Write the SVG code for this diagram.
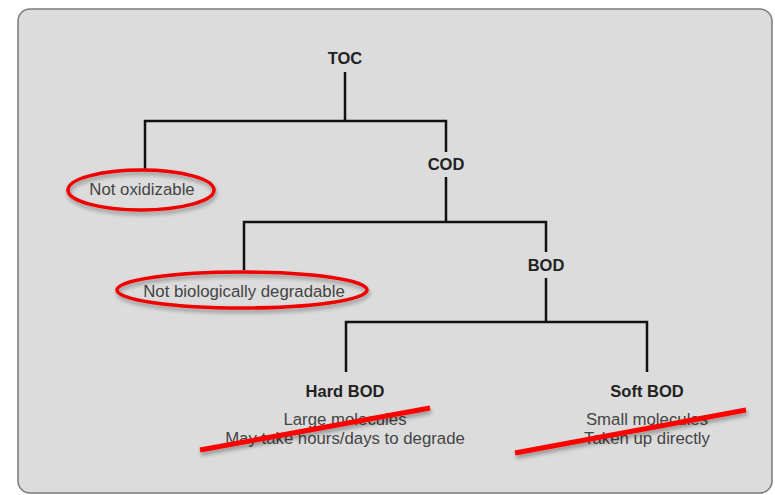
<svg xmlns="http://www.w3.org/2000/svg" width="775" height="495" viewBox="0 0 775 495">
<defs>
<style>
.bold{font-family:"Liberation Sans",Arial,sans-serif;font-weight:bold;font-size:16.5px;fill:#222;text-anchor:middle}
.reg{font-family:"Liberation Sans",Arial,sans-serif;font-size:16.8px;fill:#444;text-anchor:middle}
.conn{fill:none;stroke:#111;stroke-width:2.5}
.ring{fill:none;stroke:#f00000;stroke-width:3.5;filter:url(#sh)}
.strike{stroke:#ff0000;stroke-width:5;filter:url(#sh)}
</style>
<filter id="sh" x="-20%" y="-50%" width="140%" height="200%">
<feDropShadow dx="1" dy="3" stdDeviation="2" flood-color="#000" flood-opacity="0.35"/>
</filter>
</defs>
<rect x="0" y="0" width="775" height="495" fill="#ffffff"/>
<rect x="18" y="9" width="754" height="484" rx="12" fill="#dcdcdc" stroke="#7a7a7a" stroke-width="1.5"/>
<g id="connectors">
<path class="conn" d="M345,72 V121 M145,170 V121 H446 V152"/>
<path class="conn" d="M446,177 V222 M244,270 V222 H546 V252"/>
<path class="conn" d="M546,278 V322 M346,372 V322 H647 V372"/>
</g>
<g id="toc"><text class="bold" x="345" y="64">TOC</text></g>
<g id="cod"><text class="bold" x="446" y="170">COD</text></g>
<g id="bod"><text class="bold" x="546" y="271">BOD</text></g>
<g id="not-oxidizable">
<text class="reg" x="142" y="195">Not oxidizable</text>
<ellipse class="ring" cx="141" cy="190" rx="73" ry="20"/>
</g>
<g id="not-bio">
<text class="reg" x="244" y="297">Not biologically degradable</text>
<ellipse class="ring" cx="242" cy="290" rx="125" ry="18"/>
</g>
<g id="hard-bod">
<text class="bold" x="345" y="397">Hard BOD</text>
<text class="reg" x="345" y="425">Large molecules</text>
<text class="reg" x="345" y="444">May take hours/days to degrade</text>
<line class="strike" x1="200" y1="450" x2="430" y2="408"/>
</g>
<g id="soft-bod">
<text class="bold" x="647" y="397">Soft BOD</text>
<text class="reg" x="647" y="425">Small molecules</text>
<text class="reg" x="647" y="444">Taken up directly</text>
<line class="strike" x1="515" y1="453" x2="746" y2="410"/>
</g>
</svg>
